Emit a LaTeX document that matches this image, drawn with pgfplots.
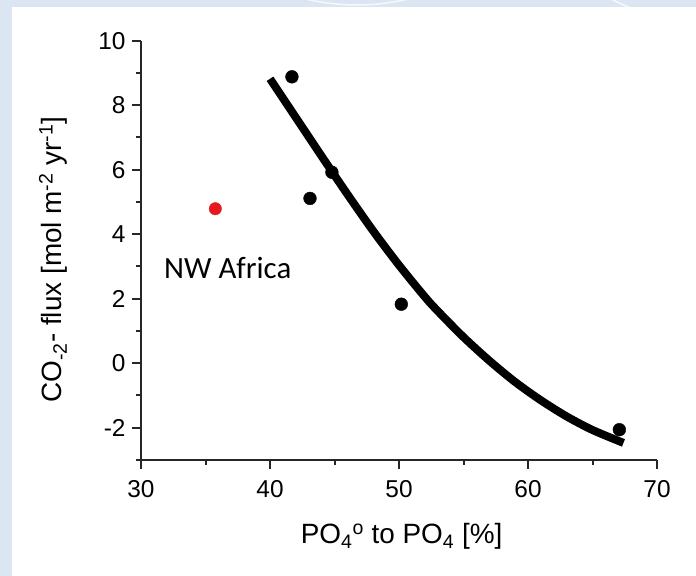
\documentclass[border=0pt]{standalone}
\usepackage{pgfplots}
\pgfplotsset{compat=1.18}
\usepackage{fontspec}
\setmainfont{Liberation Sans}
\newfontfamily\calibri{Carlito}
\definecolor{bgblue}{RGB}{220,230,242}
\definecolor{dotred}{RGB}{230,25,30}

\begin{document}
\begin{tikzpicture}[x=1bp,y=1bp]
% slide background
\fill[bgblue] (0,0) rectangle (696,576);
\begin{scope}
  \clip (0,569) rectangle (696,576);
  \draw[white!75!bgblue, line width=1.5bp] (357,789) circle (218);
  \draw[white!75!bgblue, line width=1.5bp] (760,876) circle (334);
\end{scope}
\fill[white] (12,0) rectangle (696,569);

\begin{axis}[
    at={(141bp,116bp)}, anchor=south west,
    scale only axis,
    width=516bp, height=419.3bp,
    xmin=30, xmax=70,
    ymin=-3, ymax=10,
    axis lines=left,
    axis line style={-, line width=2.2bp, black!85},
    tick style={line width=2bp, black!85},
    tick align=outside,
    major tick length=9bp,
    minor tick length=5bp,
    xtick={30,40,...,70},
    ytick={-2,0,...,10},
    minor xtick={35,45,55,65},
    minor ytick={-3,-1,...,9},
    ticklabel style={font=\fontsize{24.5}{28}\selectfont},
    yticklabel style={xshift=-3bp},
    xticklabel style={yshift=-8bp},
    /pgf/number format/assume math mode=true,
    xlabel={PO\textsubscript{4}\textsuperscript{o} to PO\textsubscript{4} [\%]},
    ylabel={CO\textsubscript{-2}- flux [mol m\textsuperscript{-2} yr\textsuperscript{-1}]},
    xlabel style={at={(axis description cs:0.505,-0.1987)}, anchor=base,
                  font=\fontsize{28}{32}\selectfont},
    ylabel style={at={(axis description cs:-0.1537,0.478)}, anchor=base,
                  font=\fontsize{28}{32}\selectfont},
    clip=false,
]
% fitted curve
\addplot[black, line width=8bp, smooth, tension=0.5, line cap=butt]
coordinates {
    (40,8.82) (42,7.62) (44,6.42) (46,5.24) (48,4.10) (50,3.04)
    (52,2.06) (53,1.62) (55,0.81) (57,0.08) (59,-0.58) (61,-1.15)
    (63,-1.65) (65,-2.07) (67.4,-2.47)
};
% sites
\addplot[only marks, mark=*, mark size=6.4bp, black]
coordinates {
    (41.7,8.88) (43.1,5.11) (44.8,5.92) (50.18,1.83) (67.08,-2.06)
};
% NW Africa
\addplot[only marks, mark=*, mark size=6.2bp, dotred,
         mark options={draw=dotred, fill=dotred}]
coordinates {(35.76,4.79)};
\node[anchor=base west, inner sep=0, font=\calibri\fontsize{31}{36}\selectfont]
    at (axis cs:31.78,2.64) {NW Africa};
\end{axis}
\end{tikzpicture}
\end{document}
